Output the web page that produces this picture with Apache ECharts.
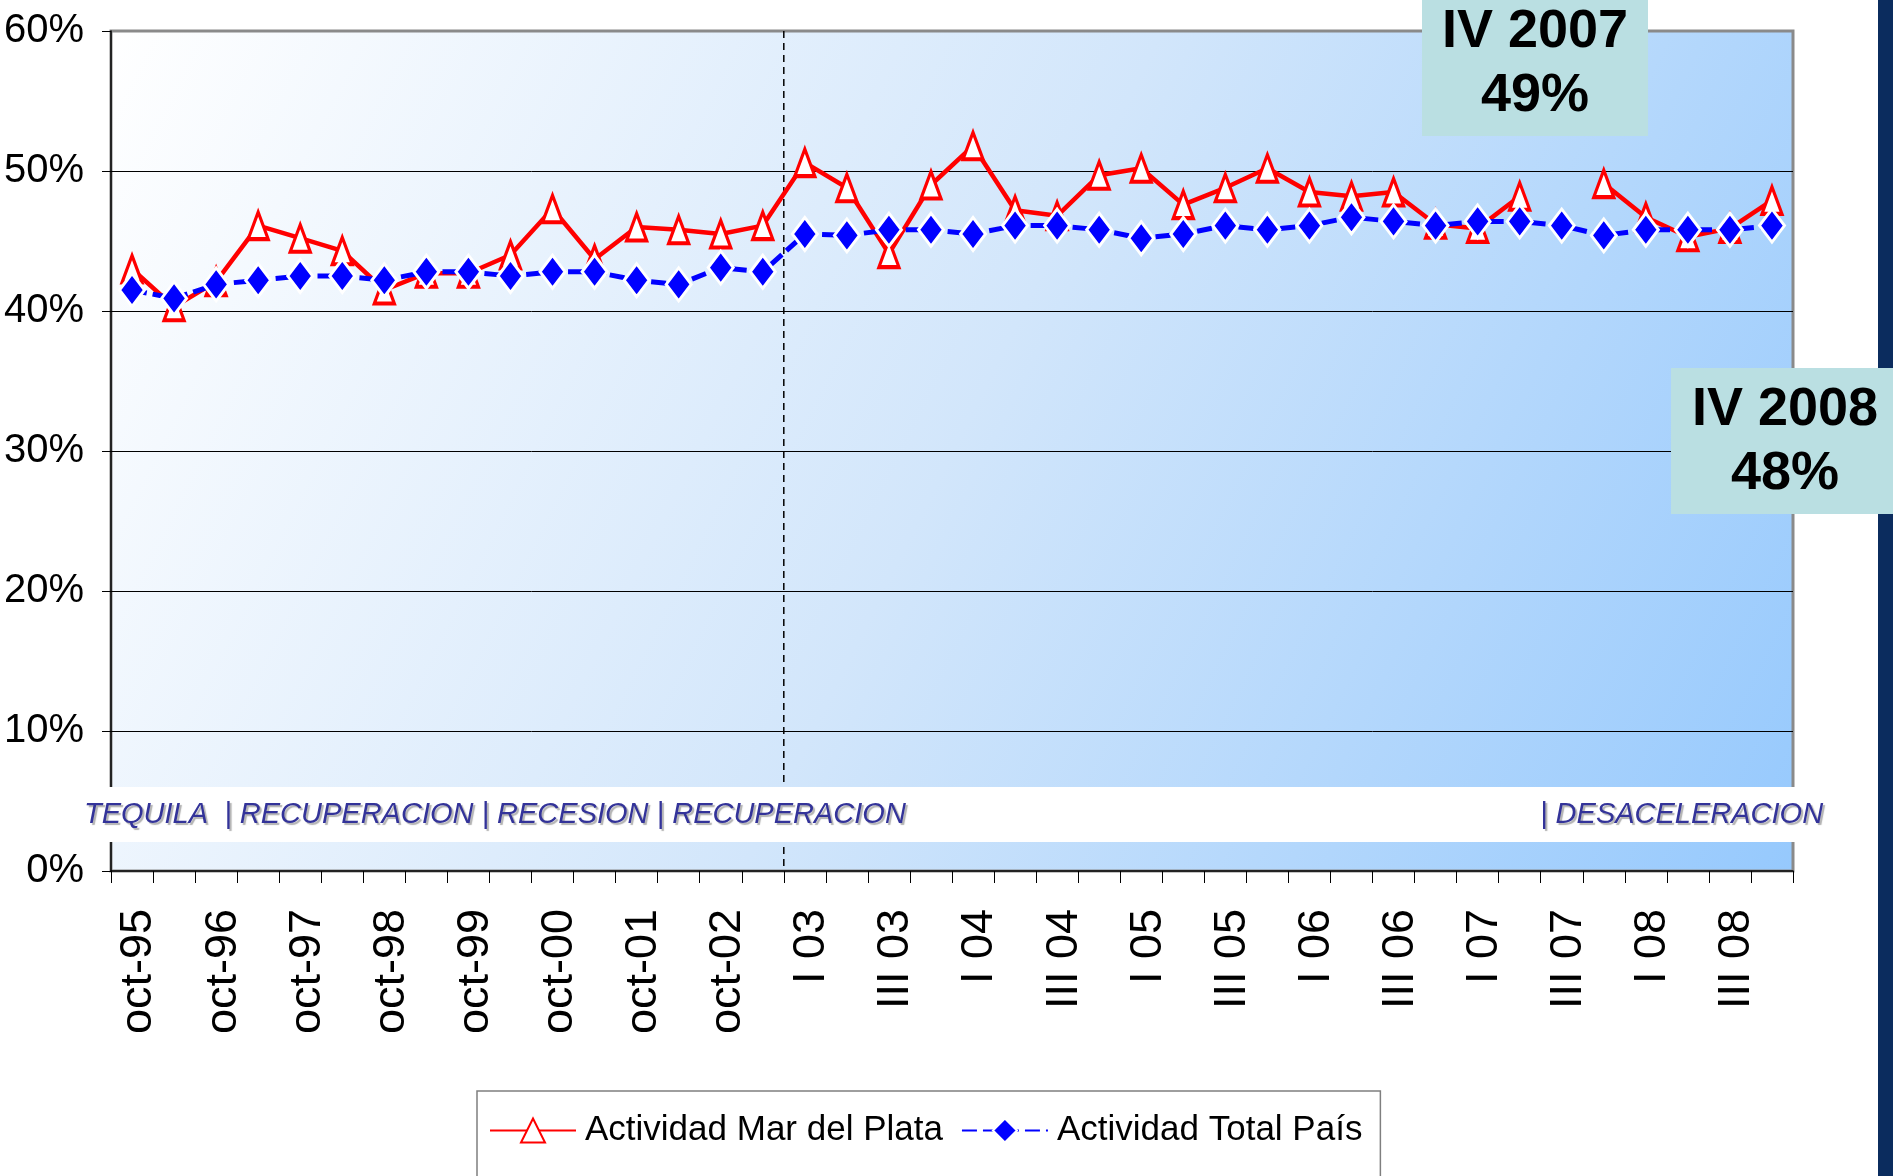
<!DOCTYPE html>
<html><head><meta charset="utf-8">
<script src="https://cdn.jsdelivr.net/npm/echarts@6/dist/echarts.min.js"></script>
<style>html,body{margin:0;padding:0;background:#fff}#c{width:1893px;height:1176px}</style>
</head><body><div id="c"></div>
<script>
const categories = [
  'oct-95','may-96','oct-96','may-97','oct-97','may-98','oct-98','may-99',
  'oct-99','may-00','oct-00','may-01','oct-01','may-02','oct-02','may-03',
  'I 03','II 03','III 03','IV 03','I 04','II 04','III 04','IV 04',
  'I 05','II 05','III 05','IV 05','I 06','II 06','III 06','IV 06',
  'I 07','II 07','III 07','IV 07','I 08','II 08','III 08','IV 08'
];
const marDelPlata = [
  43.0, 40.3, 42.1, 46.1, 45.2, 44.3, 41.5, 42.7,
  42.7, 44.0, 47.3, 43.7, 46.0, 45.8, 45.5, 46.1,
  50.6, 48.8, 44.1, 49.0, 51.8, 47.2, 46.8, 49.7,
  50.2, 47.6, 48.8, 50.2, 48.5, 48.2, 48.5, 46.2,
  45.9, 48.2, null, 49.1, 46.7, 45.3, 45.9, 47.9
];
const totalPais = [
  41.5, 40.9, 41.9, 42.2, 42.5, 42.5, 42.2, 42.8,
  42.8, 42.5, 42.8, 42.8, 42.2, 41.9, 43.1, 42.8,
  45.5, 45.4, 45.8, 45.8, 45.5, 46.1, 46.1, 45.8,
  45.2, 45.5, 46.1, 45.8, 46.1, 46.7, 46.4, 46.1,
  46.4, 46.4, 46.1, 45.4, 45.8, 45.8, 45.8, 46.1
];
const seriesNames = ['Actividad Mar del Plata', 'Actividad Total País'];
const yTickLabels = ['0%','10%','20%','30%','40%','50%','60%'];
const periodsLeft = 'TEQUILA  | RECUPERACION | RECESION | RECUPERACION';
const periodsRight = '| DESACELERACION';
const boxIV2007 = ['IV 2007', '49%'];
const boxIV2008 = ['IV 2008', '48%'];
const dividerAfterIndex = 15;

const SANS = "'Liberation Sans',Arial,sans-serif";

const chart = echarts.init(document.getElementById('c'), null, {renderer: 'canvas'});

const option = {
  animation: false,
  backgroundColor: '#ffffff',
  grid: {
    left: 111, right: 100, top: 31, bottom: 305,
    containLabel: false,
    outerBoundsMode: 'none',
    show: true,
    backgroundColor: new echarts.graphic.LinearGradient(0, 0, 1, 1, [
      {offset: 0, color: '#FFFFFF'},
      {offset: 0.5, color: '#D2E6FB'},
      {offset: 1, color: '#96C9FD'}
    ]),
    borderColor: '#8A8A8A',
    borderWidth: 3
  },
  legend: {
    left: 477, top: 1091,
    padding: [22, 18, 60, 12],
    itemWidth: 86, itemHeight: 30, itemGap: 18,
    borderColor: '#7F7F7F', borderWidth: 1.5,
    backgroundColor: '#ffffff',
    textStyle: {fontFamily: SANS, fontSize: 35, color: '#000', padding: [0,0,0,4]},
    data: seriesNames
  },
  xAxis: {
    type: 'category',
    data: categories,
    boundaryGap: true,
    axisLine: {show: true, lineStyle: {color: '#000', width: 1.5}},
    axisTick: {show: true, interval: 0, length: 12, inside: false, lineStyle: {color: '#000', width: 1}},
    axisLabel: {
      interval: 1, rotate: 90, margin: 38,
      verticalAlign: 'top', lineHeight: 14,
      fontFamily: SANS, fontSize: 45, color: '#000'
    },
    splitLine: {show: false}
  },
  yAxis: {
    type: 'value', min: 0, max: 60, interval: 10,
    axisLine: {show: true, lineStyle: {color: '#000', width: 1.5}},
    axisTick: {show: true, length: 9, lineStyle: {color: '#000'}},
    axisLabel: {
      margin: 27, fontFamily: SANS, fontSize: 40, color: '#000',
      formatter: v => yTickLabels[Math.round(v / 10)]
    },
    splitLine: {show: true, showMinLine: false, showMaxLine: false, lineStyle: {color: '#000', width: 1}}
  },
  series: [
    {
      name: seriesNames[0], type: 'line', data: marDelPlata,
      connectNulls: false, showAllSymbol: true,
      symbol: 'triangle', symbolSize: [20, 27],
      itemStyle: {color: '#FFFFFF', borderColor: '#FF0000', borderWidth: 3.5},
      lineStyle: {color: '#FF0000', width: 4.5},
      z: 3
    },
    {
      name: seriesNames[1], type: 'line', data: totalPais,
      showAllSymbol: true,
      symbol: 'diamond', symbolSize: [25, 33],
      itemStyle: {color: '#0000FF', borderColor: '#FFFFFF', borderWidth: 3},
      lineStyle: {color: '#0000FF', width: 5, type: [15, 6]},
      z: 4
    }
  ]
};
chart.setOption(option);

function boxGroup(x, y, w, h, lines, cx, cy) {
  return {
    type: 'group', z: 60,
    children: [
      {type: 'rect', shape: {x: x, y: y, width: w, height: h}, style: {fill: '#BADFE2'}, z: 60},
      {type: 'text', x: cx, y: cy, z: 61, style: {
        text: lines.join('\n'), fill: '#000', fontFamily: SANS, fontWeight: 'bold',
        fontSize: 54, lineHeight: 64, align: 'center', verticalAlign: 'middle',
        textShadowColor: '#FFFFFF', textShadowOffsetX: 2, textShadowOffsetY: 2, textShadowBlur: 0
      }}
    ]
  };
}

const xa = chart.convertToPixel({xAxisIndex: 0}, dividerAfterIndex);
const xb = chart.convertToPixel({xAxisIndex: 0}, dividerAfterIndex + 1);
const yTop = chart.convertToPixel({yAxisIndex: 0}, 60);
const yBot = chart.convertToPixel({yAxisIndex: 0}, 0);
const xDiv = (xa + xb) / 2;

chart.setOption({
  graphic: [
    {type: 'line', z: 1, shape: {x1: xDiv, y1: yTop, x2: xDiv, y2: yBot},
     style: {stroke: '#000', lineWidth: 1.5, lineDash: [7, 5]}},
    {type: 'rect', z: 50, shape: {x: 0, y: 787, width: 1878, height: 55}, style: {fill: '#FFFFFF'}},
    {type: 'text', z: 51, x: 84, y: 815, style: {
      text: periodsLeft, fill: '#333399', fontFamily: SANS, fontStyle: 'italic',
      fontSize: 29, verticalAlign: 'middle', align: 'left',
      textShadowColor: 'rgba(0,0,0,0.3)', textShadowOffsetX: 2, textShadowOffsetY: 2, textShadowBlur: 1
    }},
    {type: 'text', z: 51, x: 1540, y: 815, style: {
      text: periodsRight, fill: '#333399', fontFamily: SANS, fontStyle: 'italic',
      fontSize: 29, verticalAlign: 'middle', align: 'left',
      textShadowColor: 'rgba(0,0,0,0.3)', textShadowOffsetX: 2, textShadowOffsetY: 2, textShadowBlur: 1
    }},
    {type: 'rect', z: 55, shape: {x: 1878, y: 0, width: 15, height: 1176}, style: {fill: '#0B2C5E'}},
    boxGroup(1422, 0, 226, 136, boxIV2007, 1535, 64),
    boxGroup(1671, 368, 222, 146, boxIV2008, 1785, 442)
  ]
});
</script></body></html>
